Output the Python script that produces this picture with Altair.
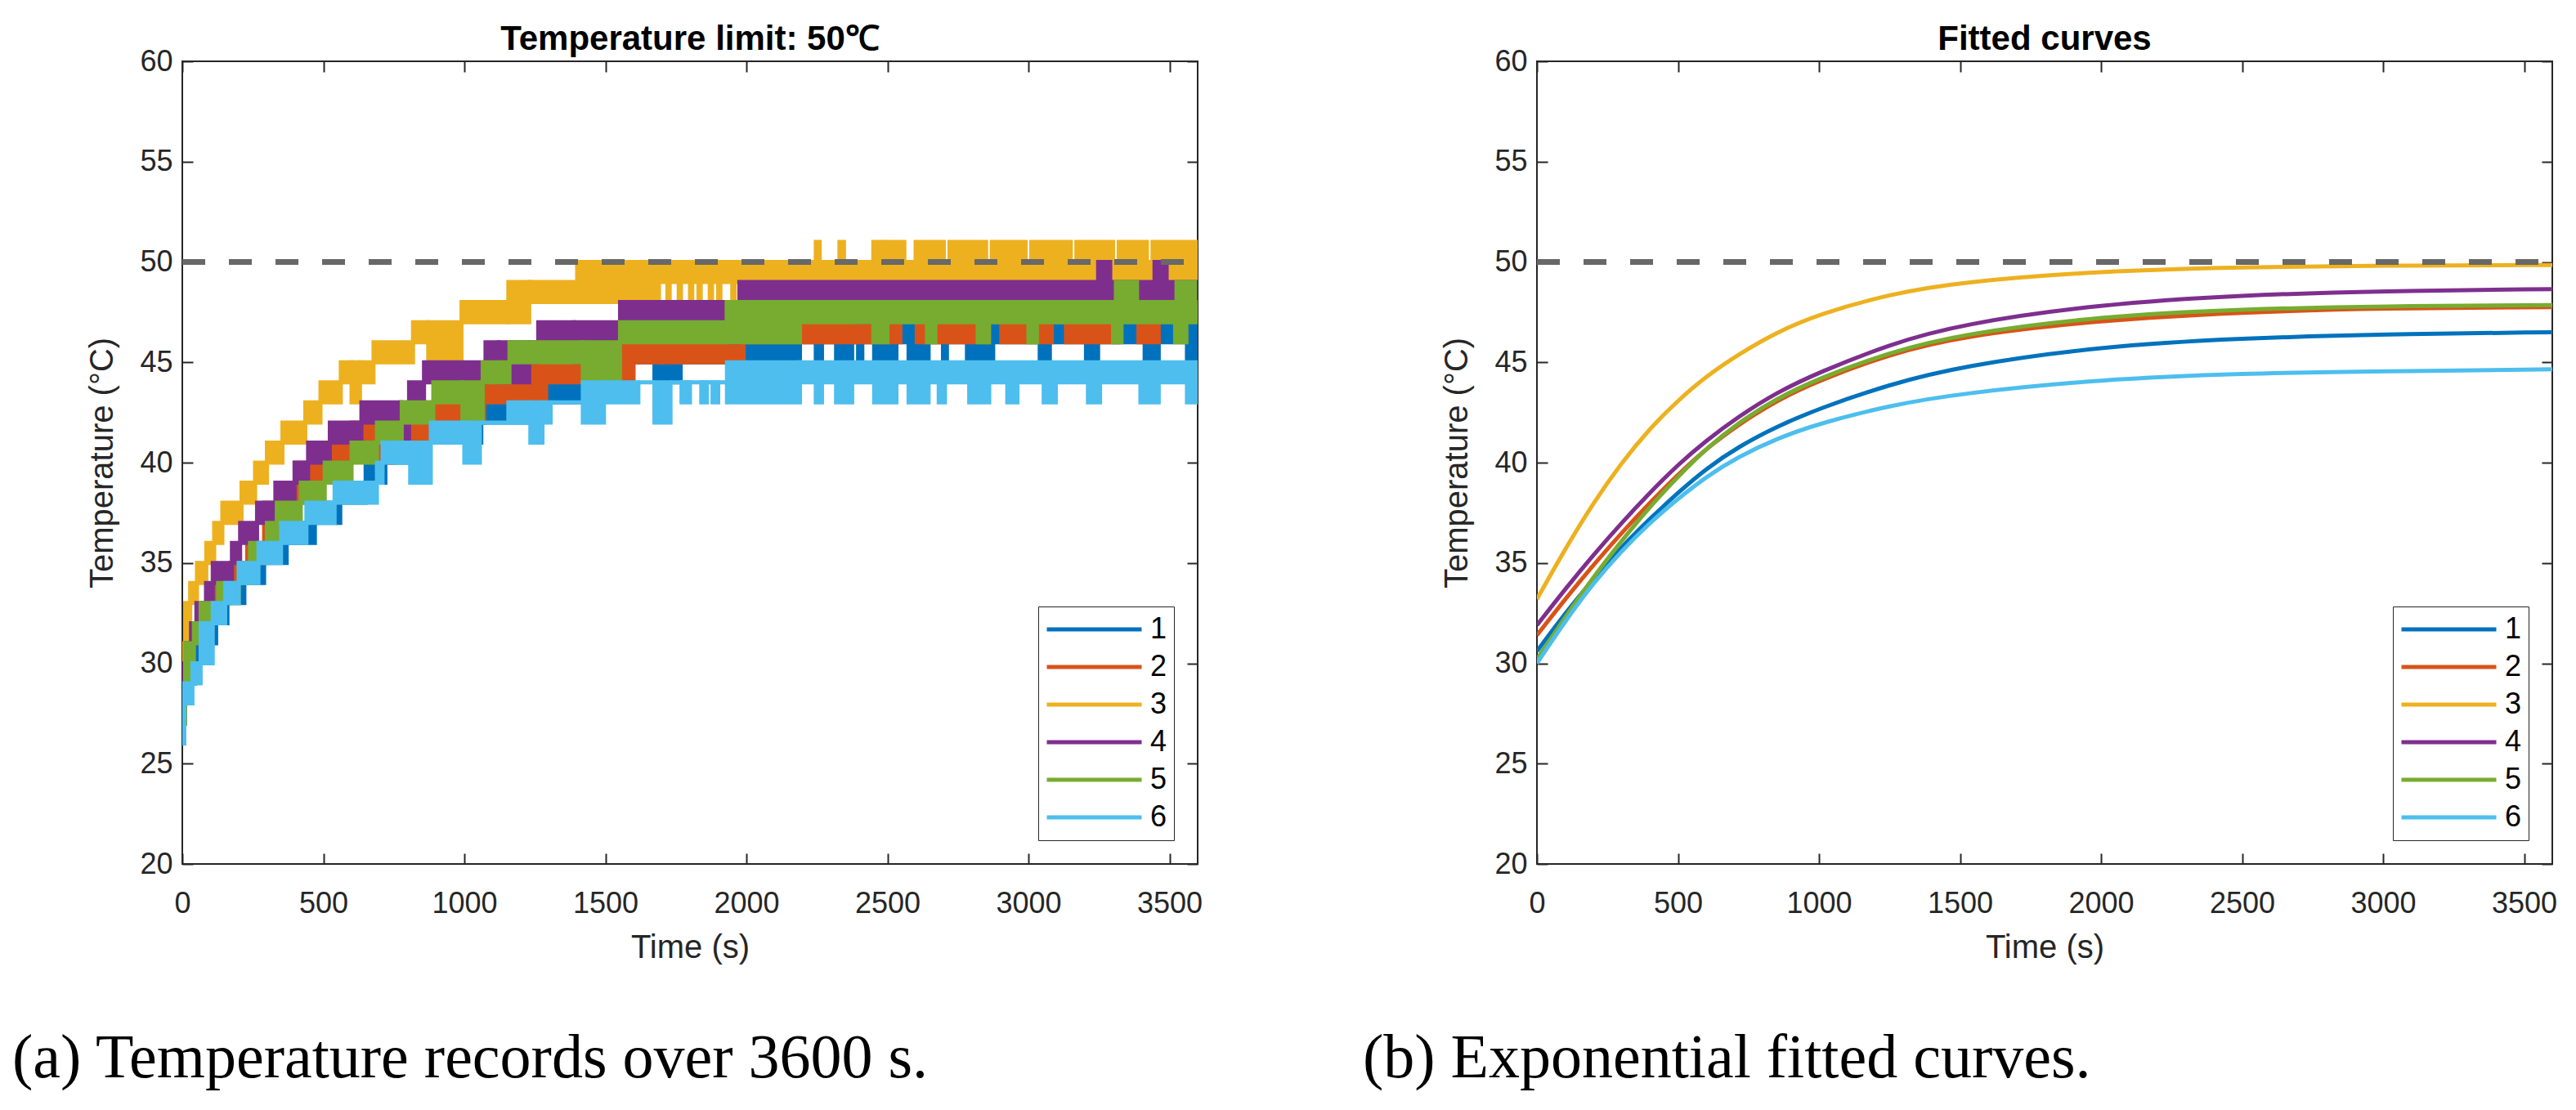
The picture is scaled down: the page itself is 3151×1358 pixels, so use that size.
import altair as alt
import pandas as pd

SERIES = ["1", "2", "3", "4", "5", "6"]
COLORS = ["#0072BD", "#D95319", "#EDB120", "#7E2F8E", "#77AC30", "#4DBEEE"]
X_TICKS = [0, 500, 1000, 1500, 2000, 2500, 3000, 3500]
Y_TICKS = [20, 25, 30, 35, 40, 45, 50, 55, 60]
T_MAX = 3600
LIMIT = 50

REC_1 = [(0, 10, 27, 29), (10, 45, 29, 30), (45, 80, 30, 31), (80, 120, 31, 32), (120, 160, 32, 33),
         (160, 220, 33, 34), (220, 290, 34, 35), (290, 370, 35, 36), (370, 470, 36, 37), (470, 560, 37, 38),
         (560, 650, 38, 39), (650, 720, 39, 40), (720, 823, 40, 41), (823, 1000, 41, 42), (1000, 1060, 41, 43),
         (1060, 1224, 42, 43), (1224, 1422, 43, 44), (1422, 1460, 43, 45), (1460, 1560, 44, 45), (1560, 1674, 45, 45),
         (1674, 1767, 44, 45), (1767, 2190, 45, 46), (1960, 1990, 44, 45), (2053, 2080, 44, 45), (2100, 2130, 44, 45),
         (2190, 3600, 46, 47), (2246, 2268, 45, 46), (2318, 2375, 45, 46), (2396, 2411, 45, 46), (2453, 2532, 45, 46),
         (2575, 2646, 45, 46), (2697, 2711, 45, 46), (2782, 2875, 45, 46), (3040, 3076, 45, 46), (3204, 3247, 45, 46),
         (3412, 3462, 45, 46), (3562, 3597, 45, 46)]
REC_2 = [(0, 12, 28, 30), (12, 40, 30, 31), (40, 75, 31, 32), (75, 110, 32, 33), (110, 170, 33, 34),
         (170, 230, 34, 35), (230, 290, 35, 36), (290, 340, 36, 38), (340, 400, 37, 38), (400, 470, 38, 40),
         (470, 523, 39, 40), (523, 600, 40, 41), (600, 690, 41, 42), (690, 750, 40, 42), (750, 830, 41, 42),
         (830, 900, 41, 43), (900, 1010, 42, 43), (1010, 1070, 42, 44), (1070, 1230, 43, 44), (1230, 1290, 43, 45),
         (1290, 1420, 44, 45), (1420, 1600, 44, 46), (1600, 1700, 45, 46), (1700, 1990, 45, 47),
         (1990, 2546, 46, 47), (2604, 2861, 46, 47), (2904, 3083, 46, 47), (3133, 3319, 46, 47), (3390, 3462, 46, 47),
         (2880, 2895, 47, 49), (2975, 2990, 47, 49), (3100, 3115, 47, 48), (3240, 3255, 47, 48), (3290, 3330, 47, 49),
         (3430, 3460, 47, 49), (3530, 3545, 47, 48)]
REC_3 = [(0, 10, 29, 31), (10, 28, 31, 33), (28, 52, 33, 34), (52, 85, 34, 35), (85, 113, 35, 36),
         (113, 142, 36, 37), (142, 210, 37, 38), (210, 258, 38, 39), (258, 300, 39, 40), (300, 355, 40, 41),
         (355, 436, 41, 42), (436, 490, 42, 43), (490, 562, 43, 44), (562, 600, 44, 45), (600, 630, 43, 45),
         (630, 678, 44, 45), (678, 818, 45, 46), (818, 872, 46, 47), (872, 990, 45, 47), (990, 1156, 47, 48),
         (1156, 1230, 47, 49), (1230, 1400, 48, 49), (1400, 1690, 48, 50), (1690, 3600, 49, 50),
         (1720, 1728, 48, 49), (1760, 1768, 48, 49), (1800, 1808, 48, 49), (1830, 1838, 48, 49), (1870, 1878, 48, 49),
         (1900, 1908, 48, 49), (1950, 1958, 48, 49), (2246, 2260, 50, 51), (2330, 2346, 50, 51), (2450, 2480, 50, 51),
         (2490, 2560, 50, 51), (2600, 2700, 50, 51), (2720, 2850, 50, 51), (2870, 2990, 50, 51), (3010, 3150, 50, 51),
         (3170, 3300, 50, 51), (3320, 3420, 50, 51), (3440, 3600, 50, 51)]
REC_4 = [(0, 12, 28, 30), (12, 31, 30, 31), (31, 50, 31, 32), (50, 84, 32, 33), (84, 108, 33, 34),
         (108, 176, 34, 35), (176, 205, 35, 36), (205, 265, 36, 37), (265, 330, 37, 38), (330, 398, 38, 39),
         (398, 446, 39, 40), (446, 523, 40, 41), (523, 635, 41, 42), (635, 775, 42, 43), (775, 804, 41, 43),
         (804, 857, 43, 44), (857, 1075, 44, 45), (1075, 1122, 45, 46), (1122, 1230, 44, 46), (1230, 1262, 45, 46),
         (1262, 1390, 46, 47), (1390, 1552, 45, 47), (1552, 1931, 47, 48), (1931, 1975, 46, 48), (1975, 3600, 48, 49),
         (2390, 2450, 47, 48), (3247, 3290, 49, 50), (3447, 3490, 49, 50)]
REC_5 = [(0, 10, 27, 29), (10, 41, 29, 31), (41, 65, 31, 32), (65, 127, 32, 33), (127, 200, 33, 34),
         (200, 240, 34, 35), (240, 300, 35, 36), (300, 335, 36, 37), (335, 420, 37, 38), (420, 505, 38, 39),
         (505, 600, 39, 40), (600, 690, 40, 41), (690, 778, 41, 42), (778, 890, 42, 43), (890, 993, 43, 44),
         (993, 1065, 42, 44), (1065, 1160, 44, 45), (1160, 1420, 45, 46), (1420, 1552, 44, 46), (1552, 1930, 46, 47),
         (1930, 2190, 46, 48), (2190, 3600, 47, 48), (2450, 2500, 46, 47), (2640, 2670, 46, 47), (2820, 2860, 46, 47),
         (3000, 3030, 46, 47), (3300, 3330, 46, 47), (3520, 3560, 46, 47), (3310, 3385, 48, 49), (3525, 3590, 48, 49)]
REC_6 = [(0, 7, 26, 28), (7, 36, 28, 29), (36, 65, 29, 30), (65, 108, 30, 32), (108, 152, 32, 33),
         (152, 200, 33, 34), (200, 270, 34, 35), (270, 350, 35, 36), (350, 440, 36, 37), (440, 540, 37, 38),
         (540, 690, 38, 39), (690, 710, 39, 40), (710, 808, 40, 41), (808, 881, 39, 41), (881, 1000, 41, 42),
         (1000, 1055, 40, 42), (1055, 1156, 42, 42), (1156, 1234, 42, 43), (1234, 1277, 41, 43), (1277, 1306, 42, 43),
         (1306, 1420, 43, 43), (1420, 1495, 42, 44), (1495, 1617, 43, 44), (1617, 1674, 44, 44), (1674, 1731, 42, 44),
         (1731, 1931, 44, 44), (1770, 1800, 43, 44), (1840, 1860, 43, 44), (1880, 1900, 43, 44), (1931, 2190, 43, 45),
         (2190, 3600, 44, 45), (2246, 2268, 43, 44), (2318, 2375, 43, 44), (2453, 2532, 43, 44), (2575, 2646, 43, 44),
         (2682, 2704, 43, 44), (2790, 2861, 43, 44), (2925, 2961, 43, 44), (3054, 3097, 43, 44), (3211, 3254, 43, 44),
         (3397, 3462, 43, 44), (3562, 3600, 43, 44)]

# fitted curves
FIT_T = [0, 100, 200, 300, 400, 500, 600, 715, 850, 1000, 1250, 1500, 2000, 2500, 3000, 3600]
FIT_1 = [30.6, 32.5, 34.2, 35.8, 37.2, 38.5, 39.7, 40.8, 41.8, 42.7, 43.9, 44.8, 45.8, 46.2, 46.4, 46.5]
FIT_2 = [31.4, 33.2, 34.9, 36.5, 38.0, 39.4, 40.7, 41.9, 43.1, 44.1, 45.4, 46.3, 47.1, 47.5, 47.7, 47.75]
FIT_3 = [33.2, 35.7, 38.0, 40.0, 41.7, 43.1, 44.3, 45.4, 46.5, 47.4, 48.4, 49.0, 49.55, 49.75, 49.82, 49.85]
FIT_4 = [31.9, 33.7, 35.4, 37.0, 38.5, 39.9, 41.1, 42.3, 43.5, 44.5, 45.9, 46.9, 47.9, 48.35, 48.55, 48.65]
FIT_5 = [30.2, 32.3, 34.3, 36.1, 37.8, 39.3, 40.7, 42.0, 43.2, 44.2, 45.5, 46.4, 47.3, 47.65, 47.8, 47.85]
FIT_6 = [30.0, 32.1, 34.0, 35.6, 37.0, 38.2, 39.3, 40.3, 41.2, 41.95, 42.85, 43.45, 44.15, 44.45, 44.55, 44.65]

TITLE_A = "Temperature limit: 50℃"
TITLE_B = "Fitted curves"
CAPTION_A = "(a) Temperature records over 3600 s."
CAPTION_B = "(b) Exponential fitted curves."

W, H = 1242, 982
AX = "#262626"

rec_rows = []
for s, recs in zip(SERIES, [REC_1, REC_2, REC_3, REC_4, REC_5, REC_6]):
    for (a, b, lo, hi) in recs:
        rec_rows.append({"series": s, "t0": a, "t1": b, "lo": lo, "hi": hi})
rec_df = pd.DataFrame(rec_rows)

fit_rows = []
for s, vals in zip(SERIES, [FIT_1, FIT_2, FIT_3, FIT_4, FIT_5, FIT_6]):
    for t, v in zip(FIT_T, vals):
        fit_rows.append({"series": s, "t": t, "T": v})
fit_df = pd.DataFrame(fit_rows)

lim_df = pd.DataFrame({"t0": [0], "t1": [T_MAX], "T": [LIMIT]})

xs = alt.Scale(domain=[0, T_MAX], nice=False, zero=False)
ys = alt.Scale(domain=[20, 60], nice=False, zero=False)
cs = alt.Scale(domain=SERIES, range=COLORS)


def legend():
    return alt.Legend(orient="none", legendX=1047, legendY=667, title=None,
                      symbolType="stroke", symbolSize=13456, symbolStrokeWidth=5,
                      clipHeight=40, rowPadding=6, symbolOffset=0, labelOffset=8,
                      labelFontSize=36, labelFont="Liberation Sans", labelColor="#000000",
                      strokeColor=AX, fillColor="white", padding=8)


x_main = alt.Axis(values=X_TICKS, ticks=False, domain=False, labelPadding=31,
                  title="Time (s)", titlePadding=16, format="d", labelFlush=False)
y_main = alt.Axis(values=Y_TICKS, ticks=False, domain=False, labelPadding=12,
                  title="Temperature (°C)", titlePadding=25, format="d")


def tick_axis(orient, offset, vals):
    return alt.Axis(orient=orient, offset=offset, values=vals, labels=False, domain=False,
                    ticks=True, tickSize=13, tickWidth=2, tickColor=AX)


def frame_layers():
    dash = alt.Chart(lim_df).mark_rule(strokeDash=[28, 29], strokeWidth=7, color="#686868").encode(
        x=alt.X("t0:Q", scale=xs, title=None, axis=tick_axis("top", -H, X_TICKS)),
        x2="t1:Q",
        y=alt.Y("T:Q", scale=ys, title=None, axis=tick_axis("right", -W, Y_TICKS)),
    )
    ghost = alt.Chart(lim_df).mark_rule(strokeOpacity=0).encode(
        x=alt.X("t0:Q", scale=xs, title=None, axis=tick_axis("bottom", -H, X_TICKS)),
        x2="t1:Q",
        y=alt.Y("T:Q", scale=ys, title=None, axis=tick_axis("left", -W, Y_TICKS)),
    )
    return dash, ghost


def panel_title(text):
    return alt.TitleParams(text, fontSize=42, fontWeight="bold", color="#000000",
                           font="Liberation Sans", offset=-13, anchor="middle")


rects = alt.Chart(rec_df).mark_rect(clip=True, strokeWidth=5).encode(
    x=alt.X("t0:Q", scale=xs, axis=x_main),
    x2="t1:Q",
    y=alt.Y("hi:Q", scale=ys, axis=y_main),
    y2="lo:Q",
    fill=alt.Fill("series:N", scale=cs, legend=legend()),
    stroke=alt.Stroke("series:N", scale=cs, legend=legend()),
)
dash_a, ghost_a = frame_layers()
panel_a = alt.layer(rects, dash_a, ghost_a).resolve_scale(x="independent", y="independent").properties(
    width=W, height=H, title=panel_title(TITLE_A))

lines = alt.Chart(fit_df).mark_line(clip=True, strokeWidth=5, interpolate="basis").encode(
    x=alt.X("t:Q", scale=xs, axis=x_main),
    y=alt.Y("T:Q", scale=ys, axis=y_main),
    color=alt.Color("series:N", scale=cs, legend=legend()),
)
dash_b, ghost_b = frame_layers()
panel_b = alt.layer(lines, dash_b, ghost_b).resolve_scale(x="independent", y="independent").properties(
    width=W, height=H, title=panel_title(TITLE_B))


def caption(text, dx):
    return alt.TitleParams(text, orient="bottom", anchor="start", frame="bounds", dx=dx, offset=78,
                           font="Liberation Serif", fontSize=76, fontWeight="normal", color="#000000")


wrap_a = alt.vconcat(panel_a, title=caption(CAPTION_A, -90))
wrap_b = alt.vconcat(panel_b, title=caption(CAPTION_B, -95))

chart = alt.hconcat(wrap_a, wrap_b, spacing=194).resolve_scale(
    color="independent", stroke="independent", fill="independent").resolve_legend(
    color="independent", stroke="independent", fill="independent").properties(
    padding={"left": 6, "top": 18, "right": 5, "bottom": 5},
    background="white",
).configure_view(stroke=AX, strokeWidth=2).configure_axis(
    grid=False, labelFont="Liberation Sans", titleFont="Liberation Sans", labelColor=AX, titleColor=AX,
    labelFontSize=36, titleFontSize=40, titleFontWeight="normal",
).configure_title(font="Liberation Sans")

chart.save("out.html", embed_options={"renderer": "svg", "actions": False})
